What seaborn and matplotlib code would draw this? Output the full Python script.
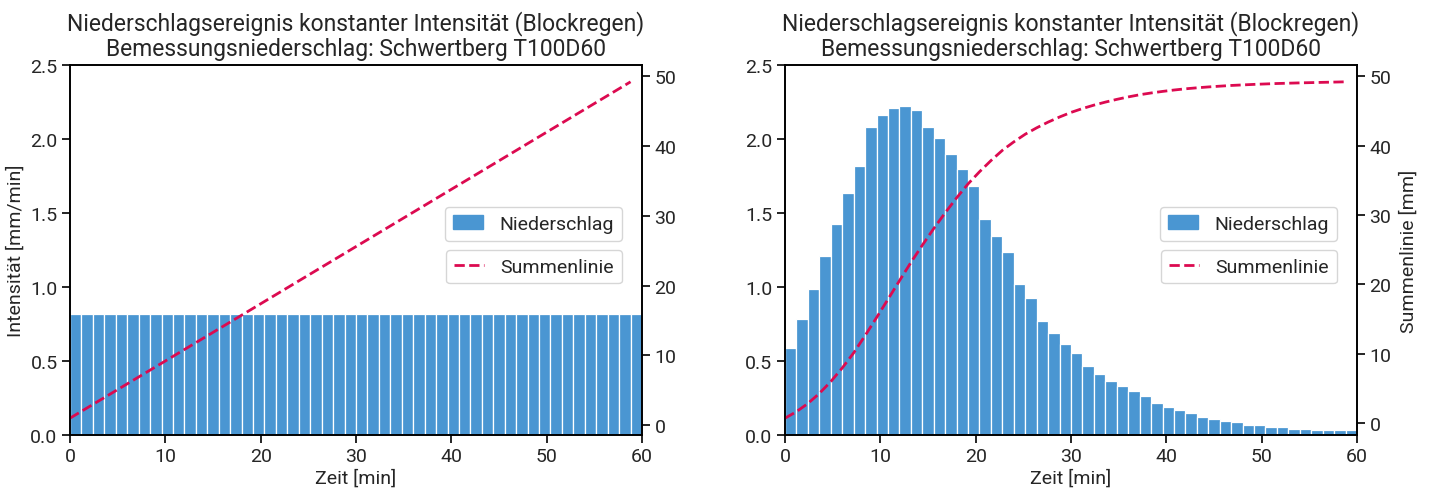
import numpy as np
import pandas as pd
import seaborn as sns
import matplotlib
matplotlib.use("Agg")
import matplotlib.pyplot as plt
from matplotlib.patches import Patch
from matplotlib.lines import Line2D

# Zeitschritt der Niederschlagsreihe [min]
dt = 1.2
zeit = np.arange(0, 60, dt)  # Beginn jedes Intervalls [min]

# Blockregen: konstante Intensität [mm/min]
intensitaet_block = [0.82] * 50

# Modellregen mit Spitze nach ca. 12 min [mm/min]
intensitaet_modell = [
    0.586, 0.782, 0.984, 1.207, 1.423, 1.633, 1.815, 2.079, 2.160, 2.207,
    2.221, 2.194, 2.079, 2.005, 1.896, 1.795, 1.680, 1.457, 1.342, 1.234,
    1.018, 0.923, 0.768, 0.687, 0.613, 0.552, 0.464, 0.410, 0.363, 0.329,
    0.295, 0.261, 0.214, 0.187, 0.167, 0.146, 0.119, 0.106, 0.092, 0.086,
    0.065, 0.065, 0.052, 0.052, 0.038, 0.038, 0.032, 0.032, 0.032, 0.032,
]

titel = ("Niederschlagsereignis konstanter Intensität (Blockregen)\n"
         "Bemessungsniederschlag: Schwertberg T100D60")
x_ticks = [0, 10, 20, 30, 40, 50, 60]
y_ticks = [0.0, 0.5, 1.0, 1.5, 2.0, 2.5]
y2_ticks = [0, 10, 20, 30, 40, 50]

BLAU = "#4a96d2"
ROT = "#dc0a50"

sns.set_theme(style="ticks")
plt.rcParams["font.family"] = ["Roboto", "DejaVu Sans"]
plt.rcParams["axes.edgecolor"] = "black"
plt.rcParams["axes.linewidth"] = 1.2

fig = plt.figure(figsize=(14.34, 4.89), dpi=100)
positionen = [
    [70 / 1434, 53 / 489, 572 / 1434, 370 / 489],
    [785 / 1434, 53 / 489, 572 / 1434, 370 / 489],
]


def zeichne(pos, intensitaet, links_label, rechts_label):
    ax = fig.add_axes(pos)
    df = pd.DataFrame({
        "mitte": zeit + dt / 2,
        "beginn": zeit,
        "i": intensitaet,
    })
    df["summe"] = np.cumsum(df["i"]) * dt

    sns.barplot(data=df, x="mitte", y="i", native_scale=True, width=1.0,
                color=BLAU, saturation=1, edgecolor="white", linewidth=0.9,
                ax=ax)
    ax.set_xlim(0, 60)
    ax.set_ylim(0, 2.5)
    ax.set_xticks(x_ticks)
    ax.set_yticks(y_ticks)
    ax.set_xlabel("Zeit [min]", fontsize=14, labelpad=2)
    ax.set_ylabel(links_label, fontsize=14, labelpad=4)
    ax.tick_params(labelsize=14, length=6, width=1.2, color="black",
                   pad=3)
    ax.set_title(titel, fontsize=16.5, pad=7, linespacing=1.1)

    ax2 = ax.twinx()
    sns.lineplot(data=df, x="beginn", y="summe", color=ROT, linestyle="--",
                 linewidth=2, ax=ax2)
    ax2.set_yticks(y2_ticks)
    ax2.set_ylabel(rechts_label, fontsize=14, labelpad=6)
    ax2.tick_params(labelsize=14, length=6, width=1.2, color="black",
                    pad=3)
    for s in ax2.spines.values():
        s.set_color("black")
        s.set_linewidth(1.2)

    h1 = [Patch(facecolor=BLAU, edgecolor=BLAU)]
    h2 = [Line2D([0], [0], color=ROT, linestyle="--", linewidth=2)]
    stil = dict(borderaxespad=0, fontsize=14, handlelength=1.55,
                handletextpad=0.85, borderpad=0.4, loc="center right")
    leg1 = ax2.legend(h1, ["Niederschlag"], bbox_to_anchor=(0.965, 0.57),
                      **stil)
    ax2.add_artist(leg1)
    ax2.legend(h2, ["Summenlinie"], bbox_to_anchor=(0.965, 0.455), **stil)
    return ax, ax2


zeichne(positionen[0], intensitaet_block, "Intensität [mm/min]", "")
zeichne(positionen[1], intensitaet_modell, "", "Summenlinie [mm]")

fig.savefig("out.png", dpi=100)
